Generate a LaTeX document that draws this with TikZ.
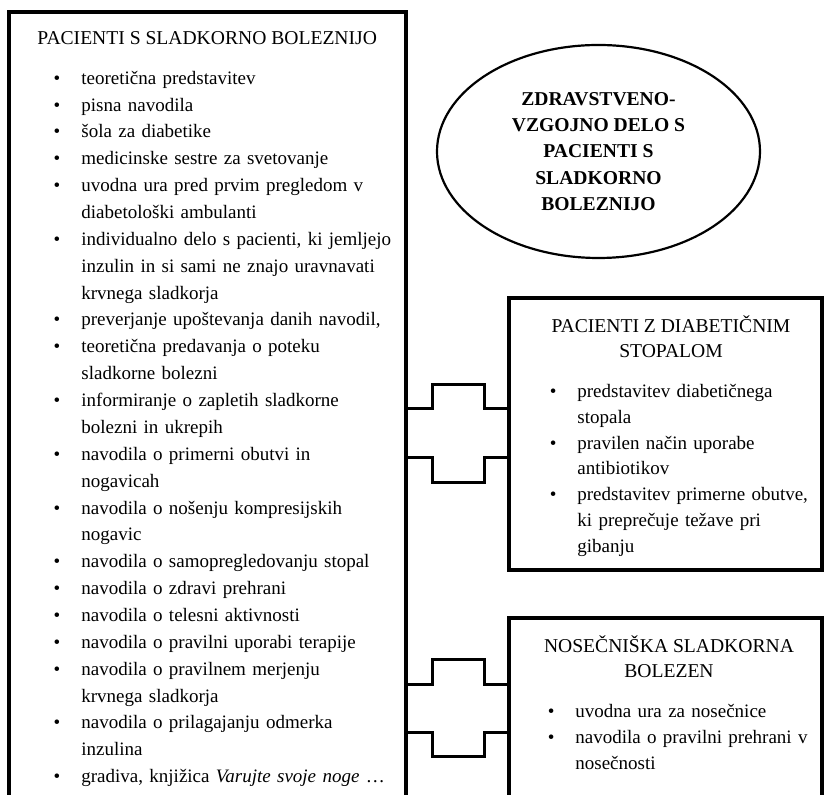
\documentclass[tikz,border=0pt]{standalone}
\usepackage{fontspec}
\setmainfont{Liberation Serif}
\usetikzlibrary{shapes.geometric}

% alineja z oznako
\newcommand{\alineja}{\par\leavevmode\llap{\textbullet\hspace{10.5pt}}}

\begin{document}
\begin{tikzpicture}[x=0.5pt, y=-0.5pt,
    okvir/.style={line width=1.6pt},
    spoj/.style={line width=1.5pt},
    glava/.style={inner sep=0pt, align=center, font=\fontsize{9.8pt}{12.5pt}\selectfont},
    seznam/.style={inner sep=0pt, text width=#1, align=left, anchor=north west,
      execute at begin node={\parindent=0pt}},
    elipsa/.style={ellipse, draw, line width=1.1pt, inner sep=0pt,
      minimum width=161.5pt, minimum height=106.5pt, align=center,
      font=\bfseries\fontsize{9.8pt}{13.1pt}\selectfont}]

        % Meje slike
        \path[use as bounding box] (0,0) rectangle (825,795);
        \clip (0,0) rectangle (825,795);

        % Okvirji
        \coordinate (levo-zl) at (9,12);
        \coordinate (levo-sd) at (406,812);
        \coordinate (stopalo-zl) at (509,298);
        \coordinate (stopalo-sd) at (822,570);
        \coordinate (nosecnost-zl) at (509,618);
        \coordinate (nosecnost-sd) at (822,812);
        \draw[okvir] (levo-zl) rectangle (levo-sd);
        \draw[okvir] (stopalo-zl) rectangle (stopalo-sd);
        \draw[okvir] (nosecnost-zl) rectangle (nosecnost-sd);

        % Spoji
        \foreach \visina/\zamik/\cilj in {409/-24/stopalo, 458/25/stopalo,
                                          685/-25/nosecnost, 733/24/nosecnost}
          \draw[spoj] (levo-sd |- 0,\visina) -| ++(26,\zamik) -| ++(52,-\zamik)
            -- (\cilj-zl |- 0,\visina);

        % Elipsa
        \node[elipsa] (naslov) at (598.5,151.5)
          {ZDRAVSTVENO-\\VZGOJNO DELO S\\PACIENTI S\\SLADKORNO\\BOLEZNIJO};

        % Levi okvir
        \node[glava, anchor=base west] (glava-levo) at (37,45)
          {PACIENTI S SLADKORNO BOLEZNIJO};
        \node[seznam=165pt, font=\fontsize{9.5pt}{13.43pt}\selectfont] (seznam-levo) at (81,57) {%
          \alineja teoretična predstavitev
          \alineja pisna navodila
          \alineja šola za diabetike
          \alineja medicinske sestre za svetovanje
          \alineja uvodna ura pred prvim pregledom v\newline diabetološki ambulanti
          \alineja individualno delo s pacienti, ki jemljejo\newline inzulin in si sami ne znajo uravnavati\newline krvnega sladkorja
          \alineja preverjanje upoštevanja danih navodil,
          \alineja teoretična predavanja o poteku\newline sladkorne bolezni
          \alineja informiranje o zapletih sladkorne\newline bolezni in ukrepih
          \alineja navodila o primerni obutvi in\newline nogavicah
          \alineja navodila o nošenju kompresijskih\newline nogavic
          \alineja navodila o samopregledovanju stopal
          \alineja navodila o zdravi prehrani
          \alineja navodila o telesni aktivnosti
          \alineja navodila o pravilni uporabi terapije
          \alineja navodila o pravilnem merjenju\newline krvnega sladkorja
          \alineja navodila o prilagajanju odmerka\newline inzulina
          \alineja gradiva, knjižica \textit{Varujte svoje noge} …};

        % Diabetično stopalo
        \node[glava, anchor=base] (glava-stopalo) at (671,358)
          {PACIENTI Z DIABETIČNIM\\STOPALOM};
        \node[seznam=125pt, font=\fontsize{9.5pt}{12.95pt}\selectfont] (seznam-stopalo) at (577,371) {%
          \alineja predstavitev diabetičnega\newline stopala
          \alineja pravilen način uporabe\newline antibiotikov
          \alineja predstavitev primerne obutve,\newline ki preprečuje težave pri\newline gibanju};

        % Nosečniška sladkorna bolezen
        \node[glava, anchor=base] (glava-nosecnost) at (669,678)
          {NOSEČNIŠKA SLADKORNA\\BOLEZEN};
        \node[seznam=125pt, font=\fontsize{9.5pt}{13pt}\selectfont] (seznam-nosecnost) at (575,691) {%
          \alineja uvodna ura za nosečnice
          \alineja navodila o pravilni prehrani v\newline nosečnosti};
      \end{tikzpicture}
\end{document}
